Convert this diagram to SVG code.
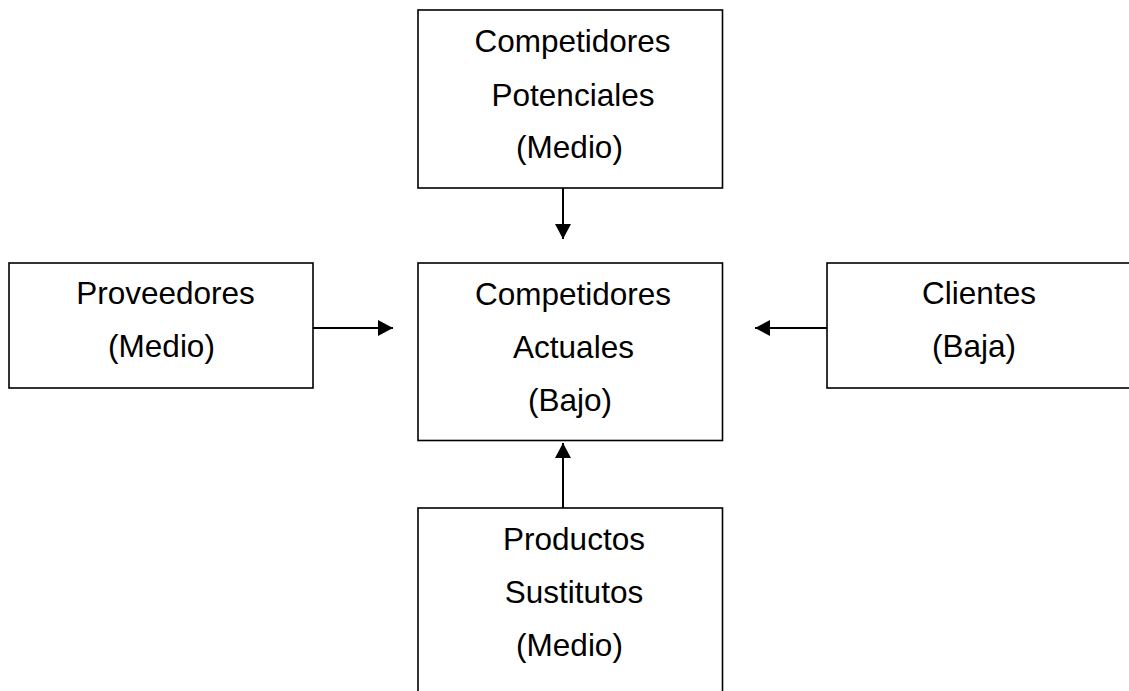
<svg xmlns="http://www.w3.org/2000/svg" width="1129" height="691" viewBox="0 0 1129 691">
<style>
.box{fill:#fff;stroke:#000;stroke-width:1.6}
.t{font-family:"Liberation Sans",Arial,sans-serif;font-size:31.5px;fill:#000;text-anchor:middle}
.c{stroke:#000;stroke-width:2;fill:none}
</style>
<defs>
<marker id="ah" markerUnits="userSpaceOnUse" markerWidth="16" markerHeight="16" refX="15" refY="8" orient="auto" viewBox="0 0 16 16">
<path d="M0,0 L15,8 L0,16 z" fill="#000"/>
</marker>
</defs>
<rect width="1129" height="691" fill="#fff"/>
<g id="potenciales">
<rect class="box" x="418" y="10" width="304.5" height="178"/>
<text class="t" x="572.5" y="52">Competidores</text>
<text class="t" x="573" y="105.5">Potenciales</text>
<text class="t" x="569.5" y="158">(Medio)</text>
</g>
<g id="actuales">
<rect class="box" x="418" y="263" width="304.5" height="177.5"/>
<text class="t" x="573" y="304.5">Competidores</text>
<text class="t" x="573.5" y="358">Actuales</text>
<text class="t" x="570" y="411">(Bajo)</text>
</g>
<g id="proveedores">
<rect class="box" x="9" y="263" width="304" height="125"/>
<text class="t" x="165.5" y="304">Proveedores</text>
<text class="t" x="161.5" y="357">(Medio)</text>
</g>
<g id="clientes">
<rect class="box" x="827" y="263" width="310" height="125"/>
<text class="t" x="979" y="304">Clientes</text>
<text class="t" x="974" y="357">(Baja)</text>
</g>
<g id="sustitutos">
<rect class="box" x="418" y="508" width="304.5" height="200"/>
<text class="t" x="574" y="550">Productos</text>
<text class="t" x="574" y="603">Sustitutos</text>
<text class="t" x="569.5" y="656">(Medio)</text>
</g>
<g id="connectors">
<line class="c" x1="563" y1="188" x2="563" y2="239" marker-end="url(#ah)"/>
<line class="c" x1="313" y1="328" x2="393" y2="328" marker-end="url(#ah)"/>
<line class="c" x1="827" y1="328" x2="755" y2="328" marker-end="url(#ah)"/>
<line class="c" x1="563" y1="508" x2="563" y2="443" marker-end="url(#ah)"/>
</g>
</svg>
